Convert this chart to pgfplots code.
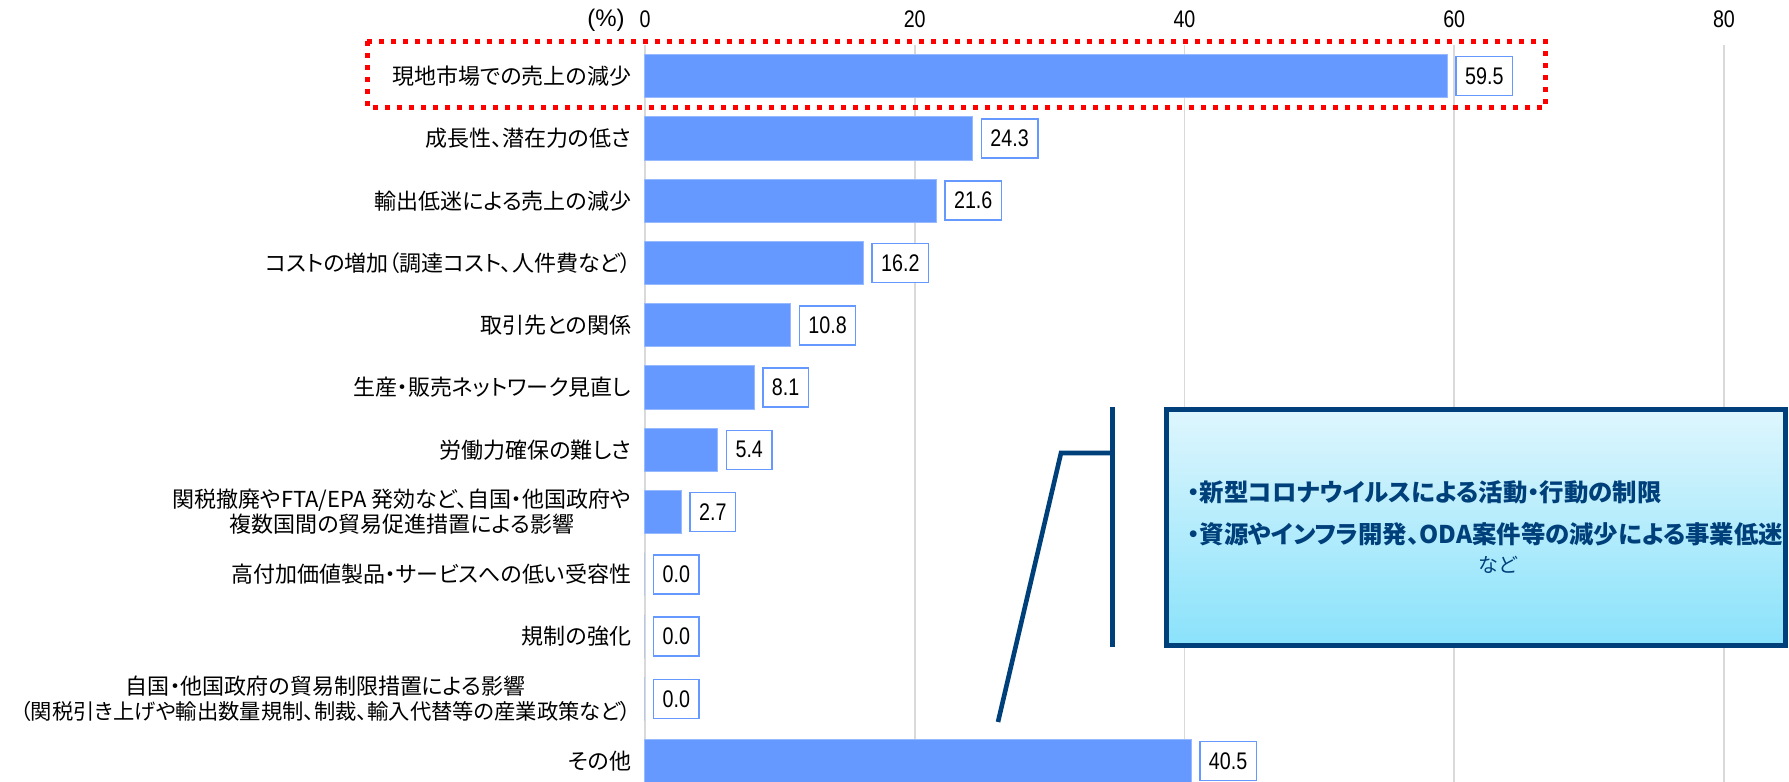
\documentclass[border=0pt]{standalone}
\usepackage{fontspec}
\usepackage{pgfplots}
\pgfplotsset{compat=1.18}
\setmainfont{Noto Sans CJK JP}[RawFeature=+palt]
\newfontfamily\jpfont{Noto Sans CJK JP}[RawFeature=+palt]
\newfontfamily\numfont{Liberation Sans}[FakeStretch=0.82]
\newfontfamily\plainsans{Liberation Sans}
\definecolor{barblue}{RGB}{102,153,255}
\definecolor{baredge}{RGB}{150,185,255}
\definecolor{gridgray}{RGB}{217,217,217}
\definecolor{navy}{RGB}{0,64,122}
\definecolor{boxtop}{RGB}{222,246,253}
\definecolor{boxbot}{RGB}{138,226,251}
\begin{document}
\begin{tikzpicture}
\begin{axis}[
  at={(322.5pt,-0.5pt)}, anchor=south west,
  scale only axis, width=573.2pt, height=369pt,
  xbar, bar width=21.7pt,
  xmin=0, xmax=85,
  ymin=-0.5, ymax=11.35, y dir=reverse,
  clip=false,
  axis line style={draw=none},
  tick style={draw=none},
  xtick={0,20,40,60,80},
  xmajorgrids, grid style={gridgray, line width=0.9pt},
  xticklabel pos=upper,
  /pgf/number format/assume math mode=true,
  xticklabel style={font=\numfont\fontsize{12}{14}\selectfont, inner sep=0pt, yshift=8.3pt},
  ytick={0,...,11},
  yticklabels={
    {現地市場での売上の減少},
    {成長性、潜在力の低さ},
    {輸出低迷による売上の減少},
    {コストの増加（調達コスト、人件費など）},
    {取引先との関係},
    {生産・販売ネットワーク見直し},
    {労働力確保の難しさ},
    {関税撤廃やFTA/EPA 発効など、自国・他国政府や\\複数国間の貿易促進措置による影響},
    {高付加価値製品・サービスへの低い受容性},
    {規制の強化},
    {自国・他国政府の貿易制限措置による影響\\{\fontsize{10.65}{12.5}\selectfont（関税引き上げや輸出数量規制、制裁、輸入代替等の産業政策など）}},
    {その他}},
  yticklabel style={font=\jpfont\fontsize{11}{12.5}\selectfont, align=center, inner sep=0pt, xshift=-2.5pt},
  nodes near coords={\pgfmathprintnumber[fixed,fixed zerofill,precision=1]{\pgfplotspointmeta}},
  nodes near coords style={anchor=west, xshift=4pt, draw=barblue, line width=0.75pt, fill=white,
     font=\numfont\fontsize{12}{14}\selectfont, inner xsep=4.5pt, minimum height=19.5pt, text=black},
  point meta=x,
]
\addplot[fill=barblue, draw=baredge, line width=0.5pt] coordinates {
  (59.5,0) (24.3,1) (21.6,2) (16.2,3) (10.8,4) (8.1,5)
  (5.4,6) (2.7,7) (0.0,8) (0.0,9) (0.0,10) (40.5,11)
};
\end{axis}
\begin{scope}[x=0.5pt, y=-0.5pt, yshift=391pt]
  \draw[red, line width=2.5pt, dash pattern=on 2.5pt off 3.5pt] (367,41.5) rectangle (1545.5,107.5);
  \node[anchor=east, inner sep=0pt, font=\plainsans\fontsize{12}{14}\selectfont] at (625,20.5) {(\%)};
  \draw[navy, line width=2.3pt] (1112.5,407) -- (1112.5,647);
  \draw[navy, line width=2.3pt, line join=miter] (998,722) -- (1061,453) -- (1112.5,453);
  \draw[navy, line width=2.5pt, top color=boxtop, bottom color=boxbot] (1166.5,409.5) rectangle (1785,645.5);
  \node[anchor=west, inner sep=0pt, text=navy, font=\jpfont\bfseries\fontsize{12.2}{14}\selectfont] at (1187,492) {・新型コロナウイルスによる活動・行動の制限};
  \node[anchor=west, inner sep=0pt, text=navy, font=\jpfont\bfseries\fontsize{12.2}{14}\selectfont] at (1187,534) {・資源やインフラ開発、ODA案件等の減少による事業低迷};
  \node[inner sep=0pt, text=navy, font=\jpfont\fontsize{10}{12}\selectfont] at (1498,565) {など};
\end{scope}
\pgfresetboundingbox
\useasboundingbox (0,0) rectangle (894.5pt,391pt);
\end{tikzpicture}
\end{document}
